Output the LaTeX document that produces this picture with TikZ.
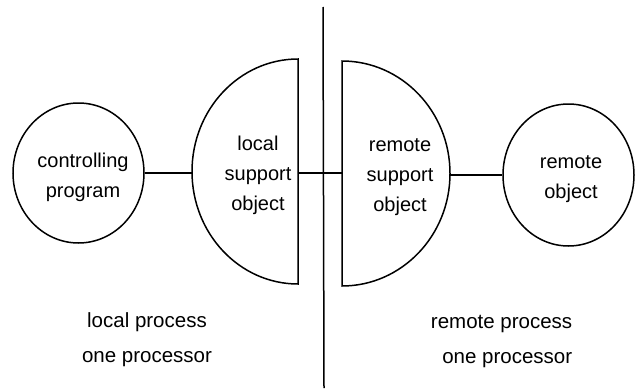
\documentclass[tikz,border=0pt]{standalone}
\usepackage{fontspec}
\setmainfont{Liberation Sans}
\usetikzlibrary{shapes.geometric}
\begin{document}
\begin{tikzpicture}[x=1pt,y=-1pt,line width=1.5pt,
  lbl/.style={font=\fontsize{20}{30}\selectfont, align=center, inner sep=0pt},
  blbl/.style={font=\fontsize{20.5}{35}\selectfont, inner sep=0pt},
  obj/.style={draw, ellipse, inner sep=0pt, minimum width=131pt}]
\useasboundingbox (0,0) rectangle (639,388);
% processor boundary
\coordinate (vtop) at (323,7);
\coordinate (vbot) at (324,388);
\draw (vtop) -- (vbot);
% controlling program
\node[obj, minimum height=140pt] (cp) at (78.5,173) {};
\node[lbl] (cpt) at (83,177) {controlling\\program};
% remote object
\node[obj, minimum height=142pt] (ro) at (568.5,175) {};
\node[lbl] (rot) at (571,179) {remote\\object};
% local support object (half ellipse)
\draw (298,59) arc[start angle=270, end angle=90, x radius=106, y radius=112.5] -- cycle;
\coordinate (lsW) at (192,173);
\coordinate (lsE) at (298,173);
\node[lbl] (lst) at (258,175) {local\\support\\object};
% remote support object (half ellipse)
\draw (342,61) arc[start angle=270, end angle=450, x radius=108, y radius=112.5] -- cycle;
\coordinate (rsW) at (342,173);
\coordinate (rsE) at (450,175);
\node[lbl] (rst) at (400,177) {remote\\support\\object};
% connectors
\draw (cp.east) -- (lsW);
\draw (lsE) -- (rsW);
\draw (rsE) -- (ro.west);
% process labels
\node[blbl, align=center] (lp) at (147,340) {local process\\one processor};
\node[blbl, align=right, anchor=east] (rp) at (573,341) {remote process\\one processor};
\end{tikzpicture}
\end{document}
